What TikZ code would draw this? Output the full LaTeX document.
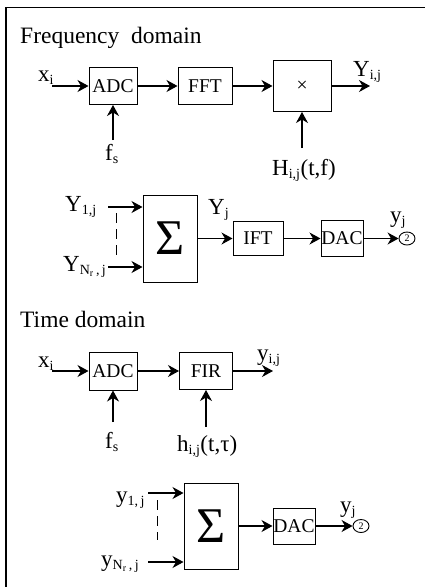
\documentclass[tikz,border=0pt]{standalone}
\usepackage{fontspec}
\setmainfont{Liberation Serif}
\usetikzlibrary{positioning, shapes.geometric, arrows.meta}
\newcommand{\lsub}[1]{\textsubscript{\fontsize{14}{14}\selectfont #1}}
\newcommand{\llsub}[1]{\textsubscript{\fontsize{10}{10}\selectfont #1}}

\begin{document}
\begin{tikzpicture}[x=1pt, y=-1pt,
  box/.style={rectangle, draw, line width=1pt, inner sep=0pt, font=\fontsize{19.5}{19.5}\selectfont},
  lbl/.style={inner sep=0pt, anchor=base west, font=\fontsize{23}{23}\selectfont},
  ttl/.style={inner sep=0pt, anchor=base west, font=\fontsize{23.5}{23.5}\selectfont},
  arr/.style={-{Stealth[length=11pt, width=12pt, inset=3.5pt]}, line width=1.1pt},
  port/.style={ellipse, draw, line width=0.9pt, minimum width=16pt, minimum height=13pt, inner sep=0pt, font=\fontsize{10}{10}\selectfont},
  dashln/.style={line width=0.9pt, dash pattern=on 10pt off 6pt},
]
  \useasboundingbox (0,0) rectangle (425,587);
  \draw[line width=1.4pt] (6,587) -- (6,7.5) -- (425,7.5);

  % frequency domain
  \node[ttl] (tfreq) at (20,43) {Frequency\ \ domain};
  \node[box, minimum width=48, minimum height=37] (adc1) at (113,86) {ADC};
  \node[box, minimum width=54, minimum height=37] (fft) at (205,86) {FFT};
  \node[box, minimum width=58, minimum height=51] (mul) at (302,86) {×};
  \coordinate (xin1) at (52,86);
  \coordinate (fsin1) at (113,140);
  \coordinate (hin) at (302,148);
  \coordinate (yout1) at (370,86);
  \node[lbl] (xlab1) at (38,81) {x\lsub{i}};
  \node[lbl] (fslab1) at (105,160) {f\lsub{s}};
  \node[lbl] (hlab) at (272,175) {H\lsub{i,j}(t,f)};
  \node[lbl] (ylab1) at (353,76) {Y\lsub{i,j}};

  \draw[arr] (xin1) -- (adc1);
  \draw[arr] (adc1) -- (fft);
  \draw[arr] (fft) -- (mul);
  \draw[arr] (mul) -- (yout1);
  \draw[arr] (fsin1) -- (adc1);
  \draw[arr] (hin) -- (mul);

  \node[box, minimum width=54, minimum height=87, font=\fontsize{50}{50}\selectfont] (sum1) at (170,238.5) {Σ};
  \node[box, minimum width=50, minimum height=34] (ift) at (258,238.5) {IFT};
  \node[box, minimum width=42, minimum height=36] (dac1) at (342,238.5) {DAC};
  \node[port] (out1) at (407,238.5) {2};
  \coordinate (yin1) at (108,207);
  \coordinate (yinn) at (108,267);
  \coordinate (dtop1) at (116,213);
  \coordinate (dbot1) at (116,255);
  \node[lbl] (y1lab) at (65,211) {Y\lsub{1,j}};
  \node[lbl] (ynlab) at (63,271) {Y\lsub{N\llsub{r}\,,\,j}};
  \node[lbl] (yjlab) at (208,214) {Y\lsub{j}};
  \node[lbl] (yjout1) at (390,222) {y\lsub{j}};

  \draw[arr] (yin1) -- (yin1 -| sum1.west);
  \draw[arr] (yinn) -- (yinn -| sum1.west);
  \draw[dashln] (dtop1) -- (dbot1);
  \draw[arr] (sum1) -- (ift);
  \draw[arr] (ift) -- (dac1);
  \draw[arr] (dac1) -- (out1);

  % time domain
  \node[ttl] (ttime) at (20,327) {Time domain};
  \node[box, minimum width=48, minimum height=38] (adc2) at (113,371) {ADC};
  \node[box, minimum width=53, minimum height=37] (fir) at (206,371) {FIR};
  \coordinate (xin2) at (52,371);
  \coordinate (fsin2) at (113,422);
  \coordinate (hin2) at (206,427);
  \coordinate (yout2) at (273,371);
  \node[lbl] (xlab2) at (38,367) {x\lsub{i}};
  \node[lbl] (fslab2) at (105,448) {f\lsub{s}};
  \node[lbl] (hlab2) at (177,451) {h\lsub{i,j}(t,τ)};
  \node[lbl] (ylab2) at (257,360) {y\lsub{i,j}};

  \draw[arr] (xin2) -- (adc2);
  \draw[arr] (adc2) -- (fir);
  \draw[arr] (fir) -- (yout2);
  \draw[arr] (fsin2) -- (adc2);
  \draw[arr] (hin2) -- (fir);

  \node[box, minimum width=54, minimum height=86, font=\fontsize{50}{50}\selectfont] (sum2) at (211,526) {Σ};
  \node[box, minimum width=42, minimum height=36] (dac2) at (294,526) {DAC};
  \node[port] (out2) at (361,526) {2};
  \coordinate (yin2) at (148,493);
  \coordinate (yinn2) at (148,562);
  \coordinate (dtop2) at (157,500);
  \coordinate (dbot2) at (157,540);
  \node[lbl] (y1lab2) at (116,502) {y\lsub{1,\,j}};
  \node[lbl] (ynlab2) at (101,566) {y\lsub{N\llsub{r}\,,\,j}};
  \node[lbl] (yjout2) at (340,512) {y\lsub{j}};

  \draw[arr] (yin2) -- (yin2 -| sum2.west);
  \draw[arr] (yinn2) -- (yinn2 -| sum2.west);
  \draw[dashln] (dtop2) -- (dbot2);
  \draw[arr] (sum2) -- (dac2);
  \draw[arr] (dac2) -- (out2);
\end{tikzpicture}
\end{document}
